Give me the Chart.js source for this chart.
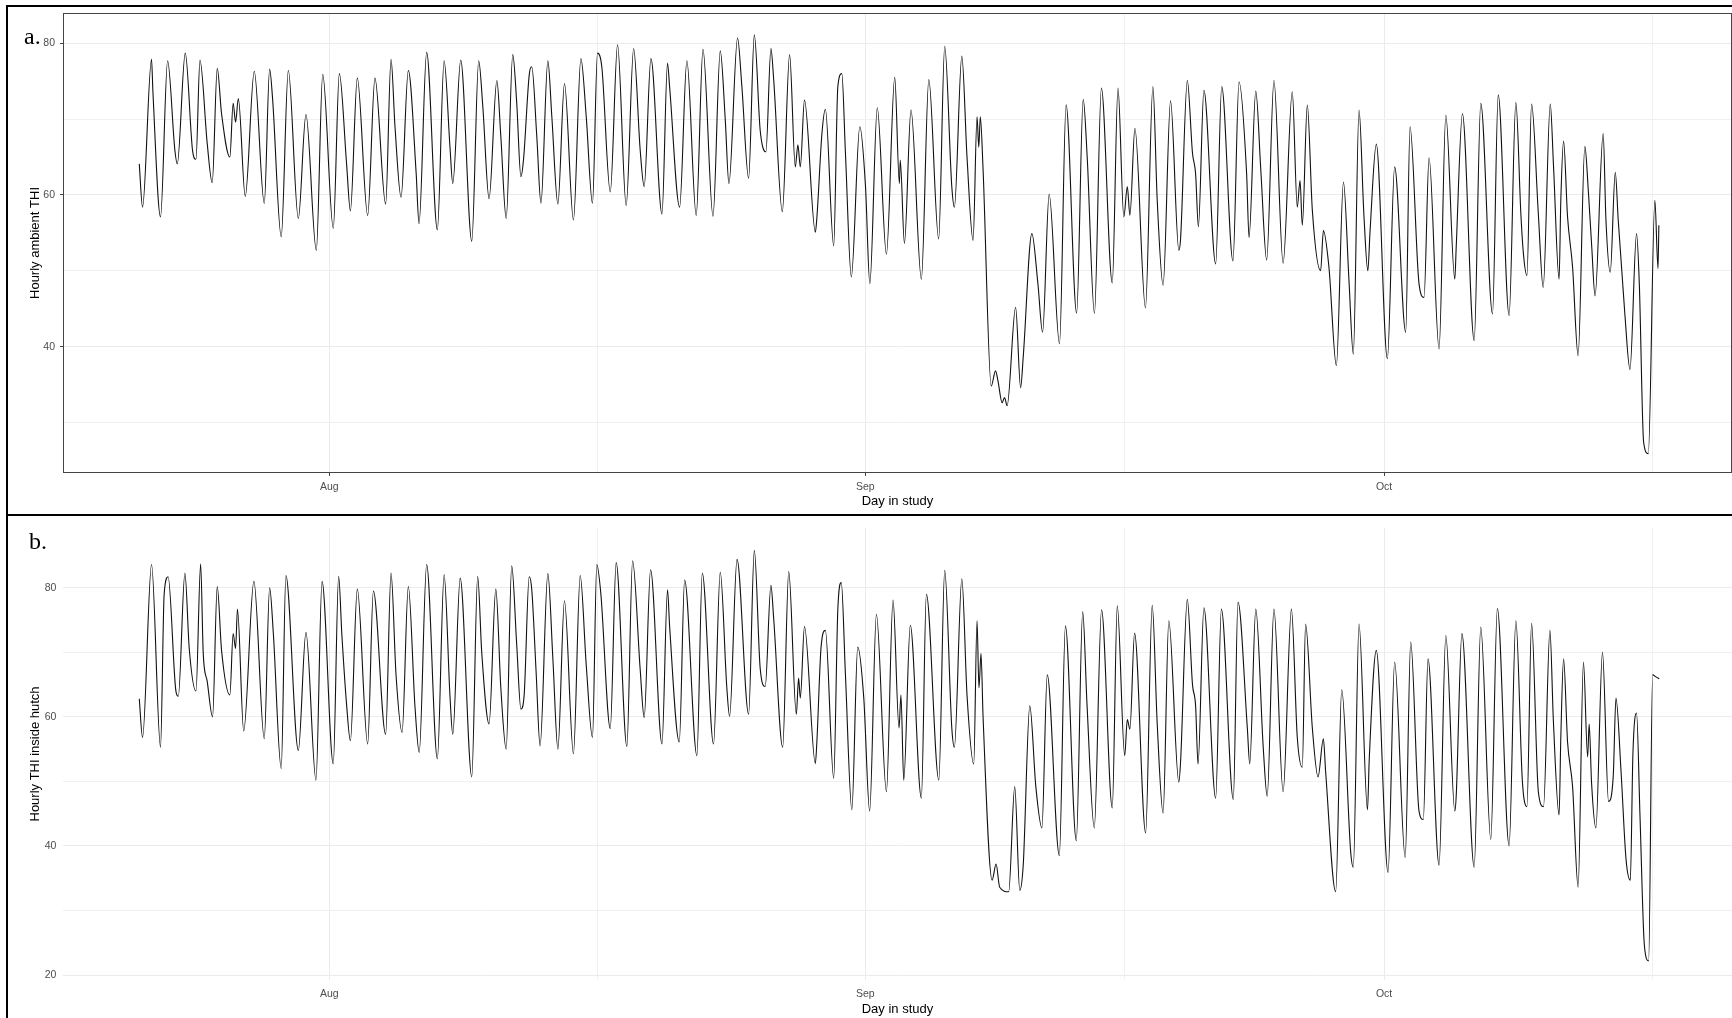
<!DOCTYPE html>
<html>
<head>
<meta charset="utf-8">
<script src="https://cdn.jsdelivr.net/npm/chart.js@4.4.0/dist/chart.umd.min.js"></script>
<style>
  html, body { margin: 0; padding: 0; background: #fff; }
  body { width: 1732px; height: 1018px; position: relative; overflow: hidden; }
  .panel { position: absolute; left: 0; width: 1732px; }
  .frame { position: absolute; background: #000; }
  .tag { position: absolute; font-family: "Liberation Serif", "DejaVu Serif", serif; font-size: 24px; line-height: 24px; color: #000; }
</style>
</head>
<body>
<div class="panel" style="top:0;height:515px"><canvas id="chartA"></canvas></div>
<div class="panel" style="top:515px;height:503px"><canvas id="chartB"></canvas></div>
<div class="frame" style="left:6px;top:5px;width:1726px;height:2px"></div>
<div class="frame" style="left:6px;top:5px;width:2px;height:1013px"></div>
<div class="frame" style="left:6px;top:514px;width:1726px;height:2px"></div>
<div class="tag" style="left:24px;top:24px">a.</div>
<div class="tag" style="left:29px;top:529px">b.</div>
<script>
// x = days since 1 Aug, turning points
let ambientDay = [-10.99,-10.80,-10.28,-10.20,-9.76,-9.35,-8.93,-8.79,-8.33,-7.91,-7.71,-7.48,-7.06,-6.77,-6.48,-6.23,-5.75,-5.56,-5.42,-5.26,
  -4.86,-4.34,-3.76,-3.45,-3.28,-2.78,-2.37,-1.79,-1.35,-0.75,-0.38,0.23,0.58,1.00,1.22,1.62,2.22,2.64,3.26,3.57,
  3.80,4.15,4.57,5.02,5.19,5.63,6.25,6.64,6.98,7.14,7.60,8.24,8.64,8.88,9.24,9.69,9.92,10.23,10.61,10.84,
  11.08,11.23,11.57,11.71,12.00,12.24,12.64,12.87,13.22,13.60,14.12,14.55,14.86,15.22,15.51,15.76,16.25,16.67,17.17,17.60,
  17.98,18.21,18.60,19.24,19.56,19.68,20.26,20.68,21.22,21.61,22.19,22.61,22.90,23.11,23.61,23.86,24.25,24.58,24.92,25.25,
  25.54,25.70,26.20,26.62,26.95,27.10,27.24,27.48,28.11,28.20,28.49,28.69,29.17,29.41,29.64,29.85,30.19,30.68,31.01,31.26,
  31.69,32.22,32.70,32.97,33.02,33.26,33.64,34.24,34.67,35.24,35.59,36.00,36.15,36.58,36.88,37.23,37.46,37.56,37.65,37.81,
  38.28,38.53,38.67,38.91,39.05,39.20,39.69,39.98,40.13,40.63,40.98,41.25,41.63,42.23,42.61,43.22,43.60,43.83,44.25,44.65,
  45.28,45.61,45.95,46.15,46.30,46.59,47.20,47.63,47.88,48.22,48.65,49.13,49.23,49.62,49.92,50.10,50.26,50.58,51.26,51.61,
  52.26,52.61,53.05,53.19,53.58,53.87,54.21,54.63,55.16,55.69,55.98,56.14,56.27,56.56,56.85,57.33,57.49,57.81,58.24,58.65,
  58.97,59.22,59.55,59.83,60.06,60.19,60.55,61.19,61.61,62.25,62.50,63.02,63.31,63.60,64.18,64.57,65.09,65.17,65.53,66.21,
  66.59,67.27,67.60,68.23,68.62,68.91,69.06,69.26,69.53,69.92,70.20,70.61,70.80,71.12,71.22,71.38,71.61,71.90,72.22,72.61,
  72.81,73.01,73.20,73.67,73.83,74.08,74.37,74.54,74.93,75.22,75.60,75.76,76.01,76.28,76.66,76.84,76.89];
let ambientTHI = [64.1,58.4,77.9,73.6,57.1,77.7,65.9,64.1,78.7,65.9,64.7,77.8,66.8,61.6,76.7,70.7,65.0,72.1,69.6,72.7,
  59.8,76.3,58.9,76.6,72.7,54.5,76.4,56.9,70.6,52.7,75.9,55.6,76.0,64.1,57.9,75.4,57.3,75.4,58.8,77.9,
  69.0,59.7,76.4,63.0,56.2,78.8,55.4,77.7,66.3,61.5,77.8,53.9,77.7,71.6,59.5,75.1,67.7,56.9,78.5,72.1,
  62.4,64.6,76.0,76.9,67.7,58.9,77.7,70.3,58.8,74.7,56.7,78.0,70.3,58.9,78.7,76.9,60.4,79.8,58.6,79.3,
  65.9,61.1,78.0,57.5,77.4,74.3,58.4,77.7,57.3,79.2,57.2,79.0,69.9,61.5,80.7,74.3,62.2,81.1,68.5,65.7,
  79.3,75.2,57.8,78.5,63.7,66.6,63.7,72.5,55.1,57.1,68.1,71.3,53.3,74.3,76.0,65.5,49.2,69.0,61.1,48.3,
  71.5,52.2,75.5,61.5,64.6,53.6,71.2,48.9,75.2,54.2,79.6,61.1,58.4,78.3,65.0,54.0,70.3,66.3,70.3,63.3,
  34.8,36.8,35.5,32.6,33.3,32.2,45.2,34.6,38.6,54.9,48.3,41.9,60.1,40.4,71.9,44.4,72.6,65.0,44.4,74.1,
  48.4,74.1,57.1,61.1,57.3,68.8,45.1,74.3,59.3,48.1,72.4,52.7,54.2,75.1,65.5,62.8,55.8,73.8,50.9,74.3,
  51.3,74.9,62.8,54.4,73.7,63.3,51.4,75.1,51.0,73.6,58.4,61.9,56.0,71.9,58.0,50.0,55.3,50.5,37.5,61.7,
  48.7,39.0,71.2,57.5,50.0,55.3,66.7,38.4,63.7,41.9,69.0,48.3,46.5,64.9,39.7,70.5,48.9,53.1,70.7,40.8,
  72.1,44.3,73.2,44.1,72.2,57.5,52.2,49.4,72.0,57.5,47.8,72.0,63.7,48.9,59.3,67.1,57.1,50.5,38.8,66.4,
  60.6,53.1,46.7,68.1,56.7,49.8,63.0,56.7,44.1,37.0,54.9,48.3,27.4,25.9,59.3,50.3,56.0];

let hutchDay = [-10.99,-10.80,-10.28,-9.76,-9.55,-9.32,-8.87,-8.73,-8.35,-8.10,-7.71,-7.44,-7.29,-7.06,-6.75,-6.48,-6.23,-5.75,-5.56,-5.42,
  -5.31,-4.95,-4.36,-3.76,-3.45,-3.24,-2.78,-2.51,-1.79,-1.35,-0.77,-0.42,0.23,0.54,0.73,1.00,1.22,1.62,2.22,2.55,
  3.26,3.57,3.86,4.21,4.57,4.96,5.20,5.63,6.25,6.64,6.98,7.14,7.57,8.24,8.58,8.82,9.24,9.63,9.92,10.23,
  10.55,10.84,11.08,11.27,11.56,11.71,11.96,12.19,12.64,12.93,13.22,13.60,14.12,14.51,14.86,15.22,15.47,15.70,16.25,16.59,
  17.21,17.54,17.98,18.21,18.58,19.24,19.56,19.68,20.24,20.55,21.26,21.57,22.22,22.61,22.99,23.15,23.58,24.25,24.58,24.92,
  25.21,25.54,25.70,26.22,26.57,27.01,27.14,27.24,27.48,28.11,28.20,28.44,28.69,29.17,29.41,29.61,29.85,30.22,30.56,30.91,
  31.25,31.64,32.22,32.60,32.95,33.06,33.22,33.60,34.24,34.53,35.25,35.59,36.00,36.15,36.58,36.88,37.27,37.46,37.57,37.69,
  37.81,38.33,38.56,38.77,39.29,39.64,39.93,40.13,40.51,40.86,41.21,41.52,42.22,42.57,43.20,43.57,43.82,44.24,44.66,45.28,
  45.57,46.00,46.15,46.30,46.57,47.21,47.59,47.88,48.22,48.55,49.13,49.23,49.62,49.92,50.10,50.24,50.58,51.26,51.59,52.28,
  52.55,53.09,53.23,53.58,54.01,54.24,54.63,55.16,55.64,55.98,56.27,56.46,56.85,57.18,57.49,57.62,58.20,58.55,59.07,59.22,
  59.55,60.04,60.14,60.55,61.23,61.61,62.22,62.54,63.02,63.27,63.54,64.18,64.57,65.09,65.17,65.50,66.21,66.59,67.17,67.55,
  68.23,68.62,69.00,69.26,69.53,69.92,70.22,70.59,70.79,71.12,71.22,71.38,71.61,71.90,72.22,72.53,72.77,72.86,73.00,73.25,
  73.63,73.98,74.25,74.41,74.70,74.99,75.24,75.39,75.60,75.80,76.05,76.30,76.53,76.72,76.91];
let hutchTHI = [62.8,56.8,83.6,55.3,79.0,81.7,64.0,63.2,82.3,70.6,64.0,83.7,69.8,65.5,60.0,80.2,70.3,63.4,72.9,70.6,
  76.7,57.8,81.0,56.6,80.0,73.1,52.0,81.9,54.8,73.1,50.2,81.0,52.7,81.8,72.6,61.9,56.3,79.8,55.8,79.5,
  57.3,82.3,66.5,57.6,80.2,61.4,54.5,83.6,53.5,82.0,63.2,57.3,81.5,50.7,81.8,69.8,58.9,79.8,64.5,55.0,
  83.4,71.1,61.2,63.4,81.7,79.7,67.0,55.5,82.2,69.0,55.0,78.0,54.3,81.9,68.0,56.8,83.6,79.2,58.2,83.9,
  55.4,84.2,67.3,59.9,82.8,55.8,79.7,74.1,56.1,81.2,54.0,82.3,55.8,82.4,64.5,60.1,84.4,60.4,85.8,67.5,
  64.7,80.4,75.2,55.3,82.5,60.4,66.0,62.9,74.0,52.8,56.3,70.8,73.4,50.5,76.7,80.8,66.5,45.6,70.8,62.9,
  45.4,75.9,48.4,78.1,58.3,63.4,50.2,74.2,47.4,79.0,50.2,82.7,58.3,55.3,81.4,63.4,52.7,74.9,64.5,69.8,
  59.9,34.7,37.2,33.6,32.9,49.2,33.1,37.0,61.7,49.2,42.8,66.5,38.5,74.1,40.8,76.3,61.9,42.8,76.6,45.9,
  77.2,54.0,59.6,58.1,73.0,42.0,77.3,58.9,45.1,74.9,49.9,53.0,78.2,65.0,61.7,52.7,76.9,47.4,76.7,47.2,
  77.8,58.3,52.7,76.7,55.3,47.7,76.7,48.4,76.7,56.8,52.2,74.4,58.3,50.7,56.6,51.5,32.9,64.2,39.0,36.7,
  74.4,45.6,53.3,70.3,35.9,68.5,38.2,71.6,45.4,44.1,69.0,37.0,72.6,45.4,47.7,72.9,36.7,73.9,41.0,76.8,
  40.0,74.9,49.9,46.1,74.5,48.4,46.1,73.4,59.4,44.8,56.8,69.0,56.1,49.2,33.6,68.5,53.8,58.9,49.7,42.8,
  70.0,46.9,50.7,62.9,51.7,38.0,34.7,54.3,60.6,44.6,24.7,22.2,66.5,66.2,65.9];

let monthTicks = [0, 31, 61];
let monthLabels = ['Aug', 'Sep', 'Oct'];
let minorDayTicks = [15.5, 46, 76.5];

let ambientYTicks = [40, 60, 80];
let ambientYMinor = [30, 50, 70];
let hutchYTicks = [20, 40, 60, 80];
let hutchYMinor = [30, 50, 70];

Chart.defaults.font.family = '"Liberation Sans", Arial, sans-serif';
Chart.defaults.animation = false;

// ggplot-like grey box round the plotting area
let panelBorder = {
    id: 'panelBorder',
    afterDraw(chart, args, opts) {
        if (!opts.show) return;
        let a = chart.chartArea;
        let ctx = chart.ctx;
        ctx.save();
        ctx.strokeStyle = '#444';
        ctx.lineWidth = 1;
        ctx.strokeRect(a.left + 0.5, a.top + 0.5, a.right - a.left - 1, a.bottom - a.top - 1);
        ctx.restore();
    }
};

function makePanel(id, days, values, p) {
    let points = days.map((d, i) => ({ x: d, y: values[i] }));
    let yAll = p.yMajor.concat(p.yMinor).sort((a, b) => a - b);
    let xAll = monthTicks.concat(minorDayTicks).sort((a, b) => a - b);

    return new Chart(document.getElementById(id), {
        type: 'line',
        data: {
            datasets: [{
                data: points,
                borderColor: '#111',
                borderWidth: 1.1,
                pointRadius: 0,
                cubicInterpolationMode: 'monotone',
                fill: false
            }]
        },
        options: {
            responsive: true,
            maintainAspectRatio: false,
            layout: { padding: { top: p.top, left: 0, right: 0, bottom: 0 } },
            plugins: {
                legend: { display: false },
                tooltip: { enabled: false },
                panelBorder: { show: p.border }
            },
            scales: {
                x: {
                    type: 'linear',
                    min: -15.4,
                    max: 81.12,
                    afterBuildTicks: s => { s.ticks = xAll.map(v => ({ value: v })); },
                    afterFit: s => { s.height = p.xHeight; },
                    border: { display: false },
                    grid: {
                        color: c => minorDayTicks.includes(c.tick.value) ? '#f0f0f0' : '#ebebeb',
                        tickColor: c => minorDayTicks.includes(c.tick.value) ? 'rgba(0,0,0,0)' : '#444',
                        drawTicks: p.ticks,
                        tickLength: 3
                    },
                    ticks: {
                        autoSkip: false,
                        maxRotation: 0,
                        padding: p.xPad,
                        color: '#4d4d4d',
                        font: { size: 10.5 },
                        callback: v => {
                            let i = monthTicks.indexOf(v);
                            return i >= 0 ? monthLabels[i] : '';
                        }
                    },
                    title: {
                        display: true,
                        text: 'Day in study',
                        color: '#000',
                        font: { size: 13 },
                        padding: { top: 0, bottom: p.xTitlePad }
                    }
                },
                y: {
                    min: p.yMin,
                    max: p.yMax,
                    afterBuildTicks: s => { s.ticks = yAll.map(v => ({ value: v })); },
                    afterFit: s => { s.width = 63; },
                    border: { display: false },
                    grid: {
                        color: c => p.yMinor.includes(c.tick.value) ? '#f0f0f0' : '#ebebeb',
                        tickColor: c => p.yMinor.includes(c.tick.value) ? 'rgba(0,0,0,0)' : '#444',
                        drawTicks: p.ticks,
                        tickLength: 3
                    },
                    ticks: {
                        padding: p.yPad,
                        color: '#4d4d4d',
                        font: { size: 10.5 },
                        callback: v => p.yMajor.includes(v) ? String(v) : ''
                    },
                    title: {
                        display: true,
                        text: p.yTitle,
                        color: '#000',
                        font: { size: 13 },
                        padding: { top: 27.5, bottom: 0 }
                    }
                }
            }
        },
        plugins: [panelBorder]
    });
}

makePanel('chartA', ambientDay, ambientTHI, {
    top: 13, xHeight: 42, border: true, ticks: true,
    yMin: 23.34, yMax: 83.99, yMajor: ambientYTicks, yMinor: ambientYMinor,
    yTitle: 'Hourly ambient THI', xPad: 4.5, yPad: 5, xTitlePad: 6
});

makePanel('chartB', hutchDay, hutchTHI, {
    top: 7, xHeight: 38, border: false, ticks: false,
    yMin: 19.23, yMax: 89.28, yMajor: hutchYTicks, yMinor: hutchYMinor,
    yTitle: 'Hourly THI inside hutch', xPad: 7.5, yPad: 6.6, xTitlePad: 1
});
</script>
</body>
</html>
